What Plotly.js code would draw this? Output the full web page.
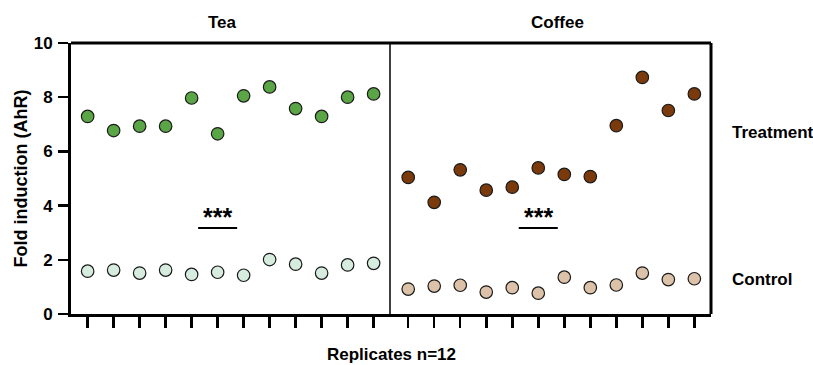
<!DOCTYPE html>
<html>
<head>
<meta charset="utf-8">
<script src="https://cdn.plot.ly/plotly-3.0.1.min.js"></script>
<style>html,body{margin:0;padding:0;background:#fff;}#chart{width:813px;height:365px;}</style>
</head>
<body>
<div id="chart"></div>
<script>
var replicates = [1,2,3,4,5,6,7,8,9,10,11,12];
var teaTreatment = [7.29,6.77,6.93,6.93,7.97,6.65,8.05,8.38,7.58,7.29,8.00,8.12];
var teaControl = [1.58,1.62,1.51,1.62,1.46,1.54,1.43,2.01,1.84,1.51,1.81,1.87];
var coffeeTreatment = [5.04,4.12,5.32,4.57,4.68,5.39,5.15,5.07,6.95,8.73,7.51,8.12];
var coffeeControl = [0.92,1.03,1.06,0.81,0.97,0.77,1.36,0.97,1.07,1.51,1.27,1.30];
var yTicks = [0,2,4,6,8,10];
var panelTitles = ["Tea","Coffee"];
var rowLabels = ["Treatment","Control"];
var sigLabel = "***";

var FONT = "Arial, 'Liberation Sans', sans-serif";
function mk(fill){return {size:12.5, color:fill, line:{color:'#1a1a1a', width:1.2}};}
var traces = [
  {x:replicates, y:teaTreatment, xaxis:'x', yaxis:'y', mode:'markers', marker:mk('#5aa545'), name:'Tea treatment'},
  {x:replicates, y:teaControl, xaxis:'x', yaxis:'y', mode:'markers', marker:mk('#d5ecdf'), name:'Tea control'},
  {x:replicates, y:coffeeTreatment, xaxis:'x2', yaxis:'y', mode:'markers', marker:mk('#7b3a0b'), name:'Coffee treatment'},
  {x:replicates, y:coffeeControl, xaxis:'x2', yaxis:'y', mode:'markers', marker:mk('#dcc2a8'), name:'Coffee control'}
];
var split = 319/640;
var xCommon = {showline:true, linewidth:3, linecolor:'#000', ticks:'outside', ticklen:11, tickwidth:2.5, tickcolor:'#000',
  showticklabels:false, showgrid:false, zeroline:false, tickvals:replicates, anchor:'y'};
var layout = {
  width:813, height:365, showlegend:false,
  margin:{l:71, r:102, t:43, b:51},
  paper_bgcolor:'#fff', plot_bgcolor:'#fff',
  font:{family:FONT, color:'#000'},
  xaxis: Object.assign({}, xCommon, {domain:[0, split], range:[0.36, 12.63]}),
  xaxis2: Object.assign({}, xCommon, {domain:[split, 1], range:[0.30, 12.64]}),
  yaxis:{range:[0,10], tickvals:yTicks, ticks:'outside', ticklen:10, tickwidth:2.5, tickcolor:'#000',
    showline:true, linewidth:3, linecolor:'#000', showgrid:false, zeroline:false,
    tickfont:{size:17, weight:700, family:FONT}, ticklabelstandoff:2,
    title:{text:'Fold induction (AhR)', font:{size:18, weight:700, family:FONT}, standoff:2}},
  shapes:[
    {type:'line', xref:'paper', yref:'paper', x0:0, x1:1, y0:1, y1:1, line:{color:'#000', width:3}},
    {type:'line', xref:'paper', yref:'paper', x0:1, x1:1, y0:0, y1:1, line:{color:'#000', width:3}},
    {type:'line', xref:'paper', yref:'paper', x0:split, x1:split, y0:0, y1:1, line:{color:'#000', width:1.5}},
    {type:'line', xref:'x', yref:'y', x0:5.25, x1:6.75, y0:3.17, y1:3.17, line:{color:'#000', width:2}},
    {type:'line', xref:'x2', yref:'y', x0:5.25, x1:6.75, y0:3.17, y1:3.17, line:{color:'#000', width:2}}
  ],
  annotations:[
    {text:panelTitles[0], xref:'paper', yref:'paper', x:0.236, y:1.074, xanchor:'center', yanchor:'middle', showarrow:false, font:{size:17, weight:700}},
    {text:panelTitles[1], xref:'paper', yref:'paper', x:0.76, y:1.074, xanchor:'center', yanchor:'middle', showarrow:false, font:{size:17, weight:700}},
    {text:rowLabels[0], xref:'paper', yref:'y', x:1.0297, y:6.68, xanchor:'left', yanchor:'middle', showarrow:false, font:{size:17, weight:700}},
    {text:rowLabels[1], xref:'paper', yref:'y', x:1.0297, y:1.27, xanchor:'left', yanchor:'middle', showarrow:false, font:{size:17, weight:700}},
    {text:sigLabel, xref:'x', yref:'y', x:6, y:3.58, xanchor:'center', yanchor:'middle', showarrow:false, font:{size:25, weight:700}},
    {text:sigLabel, xref:'x2', yref:'y', x:6, y:3.58, xanchor:'center', yanchor:'middle', showarrow:false, font:{size:25, weight:700}},
    {text:'Replicates n=12', xref:'paper', yref:'paper', x:0.5, y:-0.148, xanchor:'center', yanchor:'middle', showarrow:false, font:{size:17, weight:700}}
  ]
};
Plotly.newPlot('chart', traces, layout, {displayModeBar:false, staticPlot:true});
</script>
</body>
</html>
